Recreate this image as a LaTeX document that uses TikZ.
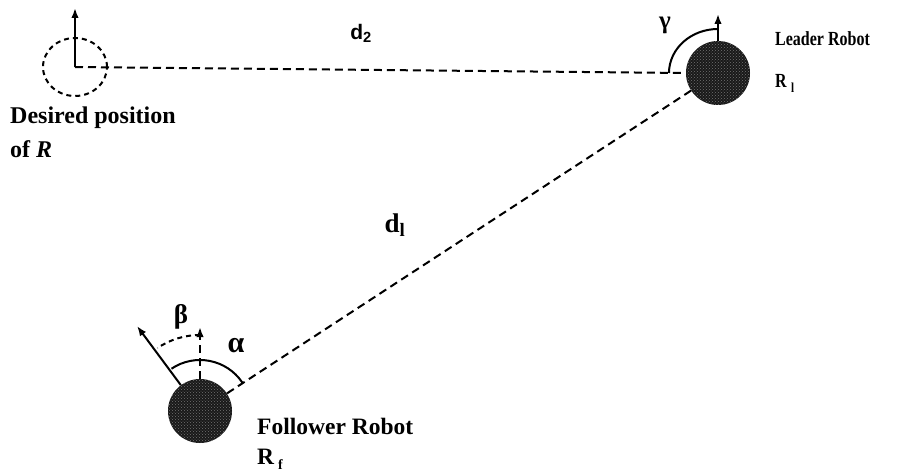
\documentclass[tikz,border=0pt]{standalone}
\usepackage{fontspec}
\setmainfont{Liberation Serif}
\setsansfont{Liberation Sans}
\usetikzlibrary{arrows.meta,patterns,shapes.geometric}
\begin{document}
\begin{tikzpicture}[x=1pt,y=1pt,
  dline/.style={dash pattern=on 8pt off 5pt, line width=2pt},
  sline/.style={line width=2pt},
  arr/.style={-{Latex[length=10pt,width=7.5pt]}},
  robot/.style={circle, minimum size=64pt, inner sep=0pt, fill=black!90,
    postaction={pattern=crosshatch dots, pattern color=white!45!black}},
  lbl/.style={anchor=base west, inner sep=0pt},
  greek/.style={inner sep=0pt},
]
\useasboundingbox (0,0) rectangle (919,475);
\fill[white] (0,0) rectangle (919,475);

% nodes
\node[ellipse, draw, dash pattern=on 5pt off 4pt, line width=2pt,
      minimum width=64pt, minimum height=58pt, inner sep=0pt] (des) at (75,408) {};
\coordinate (desup) at (75,467);
\node[robot] (lead) at (718,402) {};
\coordinate (leadup) at (718,461);
\node[robot] (fol) at (200,64) {};
\coordinate (folup) at (200,148);
\coordinate (folhead) at (137,149);

% connectors
\draw[sline, arr] (des.center) -- (desup);
\draw[dline] (des.center) -- (lead.west);
\draw[sline, arr] (lead.north) -- (leadup);
\draw[sline] ([xshift=-49pt]lead.center) arc[start angle=180, end angle=90, x radius=49, y radius=44];
\draw[dline] (lead) -- (fol);
\draw[dline, arr] (fol.north) -- (folup);
\draw[sline, arr] (fol) -- (folhead);
\draw[sline] ([shift={(34:51)}]fol.center) arc[start angle=34, end angle=124, radius=51];
\draw[dash pattern=on 5pt off 4pt, line width=2pt] ([shift={(90:76)}]fol.center) arc[start angle=90, end angle=124, radius=76];

% labels
\node[greek, font=\bfseries\fontsize{25}{25}\selectfont] (gam) at (665,450) {γ};
\node[greek, font=\bfseries\fontsize{27}{27}\selectfont] (bet) at (181,158) {β};
\node[greek, font=\bfseries\fontsize{30}{30}\selectfont] (alp) at (236,129) {α};
\node[greek, font=\sffamily\bfseries\fontsize{21}{21}\selectfont] (dtwo) at (361,442) {d\textsubscript{2}};
\node[greek, font=\bfseries\fontsize{27}{27}\selectfont] (done) at (395,250) {d\textsubscript{l}};

\node[lbl, font=\bfseries\fontsize{16}{16}\selectfont] (ltxt) at (775,429) {\scalebox{1}[1.25]{Leader Robot}};
\node[lbl, font=\bfseries\fontsize{16}{16}\selectfont] (lR) at (775,387) {\scalebox{1}[1.25]{R\;\raisebox{-4pt}{\fontsize{11}{11}\selectfont l}}};
\node[lbl, font=\bfseries\fontsize{24}{24}\selectfont] (dtxt) at (10,352) {Desired position};
\node[lbl, font=\bfseries\fontsize{24}{24}\selectfont] (oftxt) at (10,317) {of \textit{R}};
\node[lbl, font=\bfseries\fontsize{23.5}{23.5}\selectfont] (ftxt) at (257,41) {Follower Robot};
\node[lbl, font=\bfseries\fontsize{23.5}{23.5}\selectfont] (fR) at (257,11) {R\,\raisebox{-5pt}{\fontsize{14}{14}\selectfont f}};
\end{tikzpicture}
\end{document}
